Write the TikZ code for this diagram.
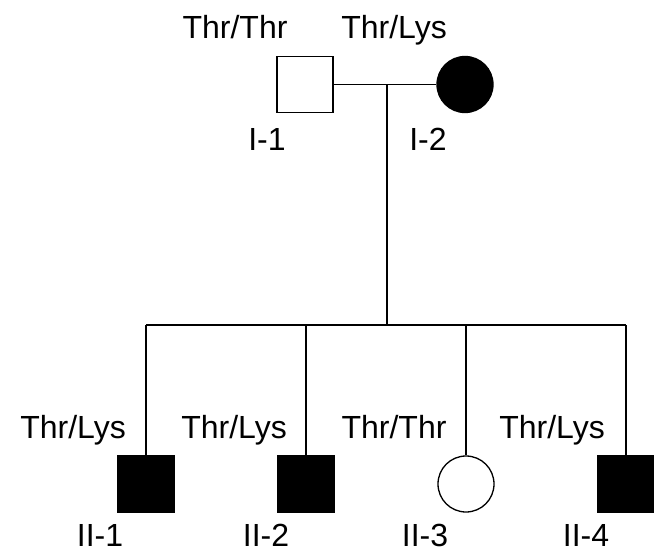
\documentclass[tikz,border=0pt]{standalone}
\usepackage{fontspec}
\setmainfont{Liberation Sans}
\begin{document}
\begin{tikzpicture}[x=1pt,y=-1pt,
  line/.style={line width=1.3pt, black},
  male/.style={draw, line width=1.3pt, rectangle, minimum size=56pt, inner sep=0pt},
  female/.style={draw, line width=1.3pt, circle, minimum size=56pt, inner sep=0pt},
  affected/.style={fill=black},
  lbl/.style={anchor=base, inner sep=0pt, text depth=0pt, font=\fontsize{32}{36}\selectfont}]
\useasboundingbox (0,0) rectangle (654,554);
% generation I
\node[male] (i1) at (305,84.5) {};
\node[female, affected] (i2) at (465,84.5) {};
\node[lbl] (g11) at (235,38) {Thr/Thr};
\node[lbl] (g12) at (394,38) {Thr/Lys};
\node[lbl] (n11) at (267,150) {I-1};
\node[lbl] (n12) at (428,150) {I-2};
% generation II
\node[male, affected] (ii1) at (146,484) {};
\node[male, affected] (ii2) at (306,484) {};
\node[female] (ii3) at (466,484) {};
\node[male, affected] (ii4) at (626,484) {};
\node[lbl] (g21) at (73,438) {Thr/Lys};
\node[lbl] (g22) at (234,438) {Thr/Lys};
\node[lbl] (g23) at (394,438) {Thr/Thr};
\node[lbl] (g24) at (552,438) {Thr/Lys};
\node[lbl] (n21) at (100,546) {II-1};
\node[lbl] (n22) at (266,546) {II-2};
\node[lbl] (n23) at (425,546) {II-3};
\node[lbl] (n24) at (586,546) {II-4};
% mating and sibship lines
\coordinate (m) at (387,84.5);
\coordinate (s) at (387,325);
\coordinate (s1) at (146,325);
\coordinate (s2) at (306,325);
\coordinate (s3) at (466,325);
\coordinate (s4) at (626,325);
\draw[line] (i1.east) -- (i2.west);
\draw[line] (m) -- (s);
\draw[line] (s1) -- (s4);
\draw[line] (s1) -- (ii1.north);
\draw[line] (s2) -- (ii2.north);
\draw[line] (s3) -- (ii3.north);
\draw[line] (s4) -- (ii4.north);
\end{tikzpicture}
\end{document}
